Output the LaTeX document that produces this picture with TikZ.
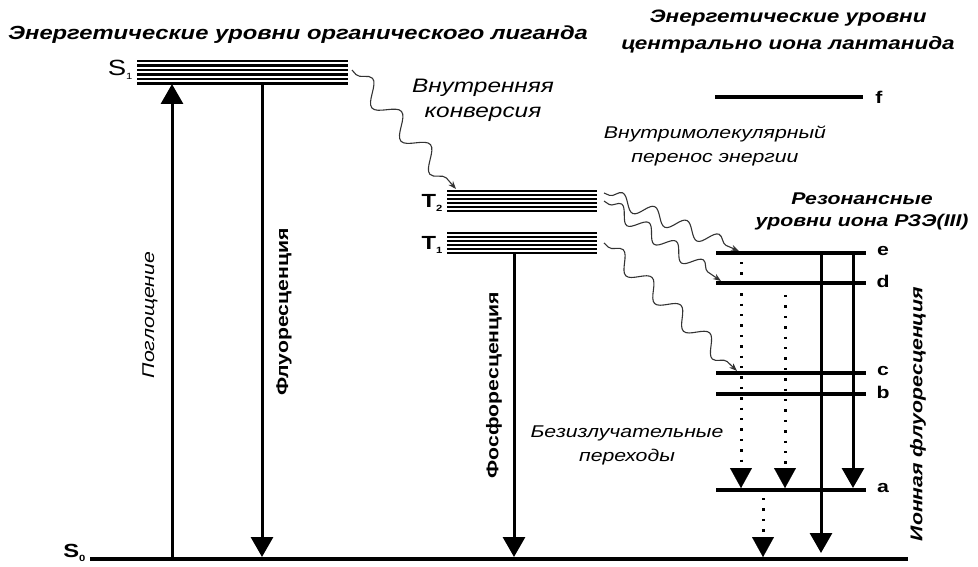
\documentclass[tikz,border=0pt]{standalone}
\usepackage{fontspec}
\setmainfont{Liberation Sans}[FakeStretch=1.25]
\usetikzlibrary{arrows.meta,decorations.pathmorphing,calc}
\tikzset{
  lvl/.style={line width=3.2pt},
  bund/.style={line width=2.8pt},
  arr/.style={line width=3pt,-{Triangle[width=22pt,length=20pt]}},
  tip/.style={-{Triangle[width=22pt,length=20pt]}},
  dots/.style={line width=3pt,dash pattern=on 2.4pt off 8pt,shorten >=18pt},
  wave/.style={line width=1.1pt,draw=black!80,-{Stealth[length=8pt,width=6pt]},decorate,
     decoration={snake,segment length=34pt,amplitude=7.5pt,pre length=6pt,post length=8pt}},
  ttl/.style={font=\bfseries\itshape\fontsize{19}{22}\selectfont},
  ttlr/.style={font=\bfseries\itshape\fontsize{18}{27}\selectfont,align=center},
  itl/.style={font=\itshape\fontsize{19.5}{25}\selectfont,align=center},
  itm/.style={font=\itshape\fontsize{17}{24}\selectfont,align=center},
  bil/.style={font=\bfseries\itshape\fontsize{17}{22}\selectfont,align=center},
  rot/.style={font=\bfseries\fontsize{17}{20}\selectfont,rotate=90},
  lab/.style={font=\bfseries\fontsize{17}{20}\selectfont},
}
\begin{document}
\begin{tikzpicture}[x=1pt,y=-1pt]
\useasboundingbox (0,0) rectangle (978,567);
% titles
\node[ttl] (title1) at (298,35) {Энергетические уровни органического лиганда};
\node[ttlr] (title2) at (788,32) {Энергетические уровни\\центрально иона лантанида};
% ground level
\coordinate (s0l) at (90,559);
\coordinate (s0r) at (908,559);
\draw[line width=4pt] (s0l) -- (s0r);
\node[font=\bfseries\fontsize{19}{20}\selectfont,anchor=east] (S0lab) at (89,553) {S\raisebox{-0.35ex}{\fontsize{9}{9}\selectfont 0}};
% S1 bundle
\foreach \y in {61,65.5,70,74.5,79,83.5} \draw[bund] (137,\y) -- (348,\y);
\node[font=\fontsize{22}{22}\selectfont,anchor=east] (S1lab) at (136,70) {S\raisebox{-0.35ex}{\fontsize{9}{9}\selectfont 1}};
% T2, T1 bundles
\foreach \y in {191,195,199,203,207,211} \draw[bund] (447,\y) -- (597,\y);
\foreach \y in {233,237,241,245,249,253} \draw[bund] (447,\y) -- (597,\y);
\node[font=\bfseries\fontsize{19}{20}\selectfont,anchor=east] (T2lab) at (446,203) {T\raisebox{-0.35ex}{\fontsize{9}{9}\selectfont 2}};
\node[font=\bfseries\fontsize{19}{20}\selectfont,anchor=east] (T1lab) at (446,245) {T\raisebox{-0.35ex}{\fontsize{9}{9}\selectfont 1}};
% absorption / fluorescence / phosphorescence
\coordinate (absA) at (172,559); \coordinate (absB) at (172,84);
\draw[arr] (absA) -- (absB);
\coordinate (flA) at (262,84); \coordinate (flB) at (262,557);
\draw[arr] (flA) -- (flB);
\coordinate (phA) at (514,254); \coordinate (phB) at (514,557);
\draw[arr] (phA) -- (phB);
\node[font=\itshape\fontsize{17}{20}\selectfont,rotate=90] (abslab) at (150,315) {Поглощение};
\node[rot] (fllab) at (284,312) {Флуоресценция};
\node[rot] (phlab) at (494,385) {Фосфоресценция};
% internal conversion
\coordinate (icA) at (352,70); \coordinate (icB) at (456,189);
\draw[wave,decoration={segment length=44pt,amplitude=10pt}] (icA) -- (icB);
\node[itl] (iclab) at (483,100) {Внутренняя\\конверсия};
\node[itm] (itlab) at (715,146) {Внутримолекулярный\\перенос энергии};
% lanthanide levels
\coordinate (fL) at (715,97); \coordinate (fR) at (863,97);
\draw[lvl] (fL) -- (fR);
\node[lab] (flab) at (879,97) {f};
\node[bil] (reslab) at (862,211) {Резонансные\\уровни иона РЗЭ(III)};
\foreach \n/\y in {e/253,d/283,c/373,b/394,a/490}{
  \coordinate (\n L) at (716,\y); \coordinate (\n R) at (866,\y);
  \draw[lvl] (\n L) -- (\n R);
  \node[lab] (\n lab) at (883,\y-2) {\n};
}
% ion fluorescence arrows
\coordinate (if1A) at (821,253); \coordinate (if1B) at (821,553);
\draw[arr] (if1A) -- (if1B);
\coordinate (if2A) at (853,253); \coordinate (if2B) at (853,488);
\draw[arr] (if2A) -- (if2B);
\node[font=\bfseries\itshape\fontsize{17}{20}\selectfont,rotate=90] (ionlab) at (918,414) {Ионная флуоресценция};
% nonradiative (dotted) arrows
\coordinate (nr1A) at (741,262); \coordinate (nr1B) at (741,488);
\coordinate (nr2A) at (785,295); \coordinate (nr2B) at (785,488);
\coordinate (nr3A) at (763,498); \coordinate (nr3B) at (763,557);
\foreach \p in {nr1,nr2,nr3}{
  \draw[dots] (\p A) -- (\p B);
  \draw[tip,line width=0.1pt] ($(\p B)+(0,-1)$) -- (\p B);
}
\node[itm] (nrlab) at (627,445) {Безизлучательные\\переходы};
% energy transfer waves
\coordinate (w1A) at (604,193); \coordinate (w1B) at (739,251);
\coordinate (w2A) at (604,201); \coordinate (w2B) at (721,281);
\coordinate (w3A) at (604,243); \coordinate (w3B) at (737,371);
\draw[wave,decoration={segment length=35pt}] (w1A) -- (w1B);
\draw[wave,decoration={segment length=33pt}] (w2A) -- (w2B);
\draw[wave,decoration={segment length=40pt,amplitude=8.5pt}] (w3A) -- (w3B);
\end{tikzpicture}
\end{document}
